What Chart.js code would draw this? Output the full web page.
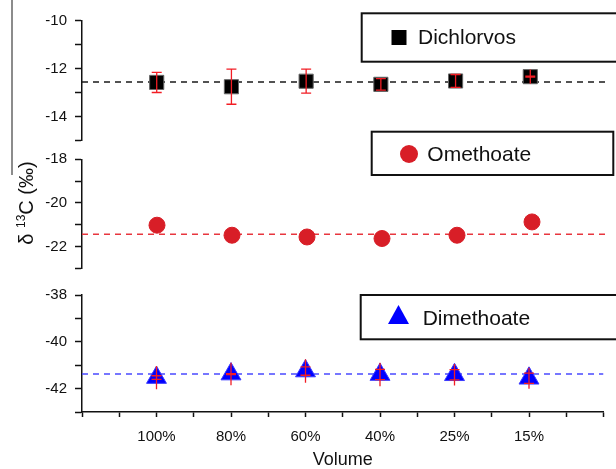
<!DOCTYPE html>
<html lang="en">
<head>
<meta charset="UTF-8">
<title>Carbon isotope vs volume</title>
<script src="https://cdn.jsdelivr.net/npm/chart.js"></script>
<style>
  body { margin: 0; background: #fff; }
  .wrap { position: relative; width: 616px; height: 469px; overflow: hidden; }
  .wrap canvas { position: absolute; left: 0; top: 0; }
</style>
</head>
<body>
<div class="wrap">
  <canvas id="c1" width="616" height="469"></canvas>
  <canvas id="c2" width="616" height="469"></canvas>
  <canvas id="c3" width="616" height="469"></canvas>
</div>
<script>
// categories (x positions 1..6)
const volumes = ['100%', '80%', '60%', '40%', '25%', '15%'];

// Dichlorvos: mean value, whisker half-length, cap half-length
const dichlorvos = [-12.58, -12.76, -12.53, -12.66, -12.52, -12.34];
const dichlorvosErr = [0.42, 0.73, 0.50, 0.24, 0.27, 0.30];
const dichlorvosCap = [0.42, 0.73, 0.50, 0.24, 0.27, 0.02];
const dichlorvosMean = -12.56;

const omethoate = [-21.02, -21.48, -21.56, -21.63, -21.48, -20.87];
const omethoateMean = -21.43;

const dimethoate = [-41.53, -41.38, -41.25, -41.40, -41.41, -41.56];
const dimethoateErr = [0.50, 0.48, 0.50, 0.50, 0.46, 0.45];
const dimethoateCap = [0.08, 0.02, 0.18, 0.22, 0.22, 0.22];
const dimethoateMean = -41.38;

const FONT = "'Liberation Sans', Arial, sans-serif";
Chart.defaults.font.family = FONT;
Chart.defaults.color = '#111';

function toPoints(values) {
  return values.map((v, i) => ({ x: i + 1, y: v }));
}

// red error bars drawn on top of the markers
const errorBars = {
  id: 'errorBars',
  afterDatasetsDraw(chart) {
    const ctx = chart.ctx, ys = chart.scales.y;
    chart.data.datasets.forEach((ds, i) => {
      if (!ds.errBar) return;
      chart.getDatasetMeta(i).data.forEach((pt, j) => {
        const v = ds.data[j].y;
        const t = ys.getPixelForValue(v + ds.errBar[j]);
        const b = ys.getPixelForValue(v - ds.errBar[j]);
        const ct = ys.getPixelForValue(v + ds.errCap[j]);
        const cb = ys.getPixelForValue(v - ds.errCap[j]);
        ctx.save();
        ctx.strokeStyle = '#f21d24';
        ctx.lineWidth = 1.3;
        ctx.beginPath();
        ctx.moveTo(pt.x, t); ctx.lineTo(pt.x, b);
        ctx.moveTo(pt.x - 5, ct); ctx.lineTo(pt.x + 5, ct);
        ctx.moveTo(pt.x - 5, cb); ctx.lineTo(pt.x + 5, cb);
        ctx.stroke();
        ctx.restore();
      });
    });
  }
};

// boxed legend with one entry
const legendBox = {
  id: 'legendBox',
  afterDraw(chart, args, o) {
    const ctx = chart.ctx;
    ctx.save();
    ctx.lineWidth = 2;
    ctx.strokeStyle = '#111';
    ctx.strokeRect(o.x, o.y, o.w, o.h);
    ctx.fillStyle = o.color;
    ctx.beginPath();
    if (o.shape === 'rect') {
      ctx.rect(o.mx - o.size / 2, o.my - o.size / 2, o.size, o.size);
    } else if (o.shape === 'circle') {
      ctx.arc(o.mx, o.my, o.size / 2, 0, Math.PI * 2);
    } else {
      const h = o.size * 0.9;
      ctx.moveTo(o.mx, o.my - h / 2);
      ctx.lineTo(o.mx + o.size / 2, o.my + h / 2);
      ctx.lineTo(o.mx - o.size / 2, o.my + h / 2);
      ctx.closePath();
    }
    ctx.fill();
    ctx.fillStyle = '#111';
    ctx.font = '21px ' + FONT;
    ctx.textBaseline = 'middle';
    ctx.fillText(o.text, o.tx, o.ty);
    ctx.restore();
  }
};

// rotated y title with superscript, plus the thin frame line at the left
const yTitle = {
  id: 'yTitle',
  afterDraw(chart) {
    const ctx = chart.ctx;
    ctx.save();
    ctx.strokeStyle = '#666';
    ctx.lineWidth = 1.5;
    ctx.beginPath();
    ctx.moveTo(12, 0); ctx.lineTo(12, 175);
    ctx.stroke();

    const parts = [['δ ', 20, 0], ['13', 12, -8], ['C (‰)', 20, 0]];
    let total = 0;
    parts.forEach(p => { ctx.font = p[1] + 'px ' + FONT; total += ctx.measureText(p[0]).width; });
    ctx.translate(33, 203);
    ctx.rotate(-Math.PI / 2);
    ctx.fillStyle = '#111';
    ctx.textBaseline = 'alphabetic';
    let x = -total / 2;
    parts.forEach(p => {
      ctx.font = p[1] + 'px ' + FONT;
      ctx.fillText(p[0], x, p[2]);
      x += ctx.measureText(p[0]).width;
    });
    ctx.restore();
  }
};

function yAxis(min, max) {
  return {
    min: min, max: max,
    ticks: {
      stepSize: 1,
      autoSkip: false,
      padding: 8,
      font: { size: 15 },
      color: '#111',
      callback: v => (v % 2 === 0 ? v : '')
    },
    grid: { drawOnChartArea: false, tickLength: 7, tickColor: '#111', tickWidth: 1.5 },
    border: { color: '#111', width: 1.5 },
    afterFit: s => { s.width = 82; }
  };
}

function xAxis(show) {
  const axis = {
    type: 'linear', min: 0, max: 7, display: show,
    ticks: {
      stepSize: 0.5, autoSkip: false, maxRotation: 0, padding: 11,
      font: { size: 15 }, color: '#111',
      callback: v => (Number.isInteger(v) && v >= 1 && v <= volumes.length ? volumes[v - 1] : '')
    },
    grid: { drawOnChartArea: false, tickLength: 5, tickColor: '#111', tickWidth: 1.5 },
    border: { color: '#111', width: 1.5 },
    title: { display: true, text: 'Volume', font: { size: 18, lineHeight: 1 }, color: '#111', padding: 0 }
  };
  if (show) axis.afterFit = s => { s.height = 57; };
  return axis;
}

function panel(id, p) {
  return new Chart(document.getElementById(id), {
    type: 'scatter',
    data: {
      datasets: [
        {
          data: toPoints(p.values),
          pointStyle: p.style,
          pointRadius: p.radius,
          backgroundColor: p.color,
          borderColor: p.border,
          borderWidth: 1,
          errBar: p.err,
          errCap: p.cap,
          order: 1
        },
        {
          type: 'line',
          data: [{ x: 0, y: p.mean }, { x: 7, y: p.mean }],
          borderColor: p.dash,
          borderWidth: 1.5,
          borderDash: [6, 5],
          pointRadius: 0,
          order: 2
        }
      ]
    },
    options: {
      responsive: false,
      animation: false,
      events: [],
      layout: { padding: { left: 0, right: 2, top: p.top, bottom: p.bottom } },
      plugins: {
        legend: { display: false },
        tooltip: { enabled: false },
        legendBox: p.legend
      },
      scales: {
        x: xAxis(p.showX),
        y: yAxis(p.min, p.max)
      }
    },
    plugins: p.plugins
  });
}

panel('c1', {
  values: dichlorvos, err: dichlorvosErr, cap: dichlorvosCap, mean: dichlorvosMean,
  style: 'rect', radius: 10, color: '#000', border: '#666', dash: '#1a1a1a',
  min: -15, max: -10, top: 20.5, bottom: 328.5, showX: false,
  legend: { x: 361.7, y: 13.3, w: 270, h: 48.4, shape: 'rect', size: 15, color: '#000',
            mx: 399, my: 37.5, text: 'Dichlorvos', tx: 418, ty: 38 },
  plugins: [errorBars, legendBox]
});

panel('c2', {
  values: omethoate, mean: omethoateMean,
  style: 'circle', radius: 8, color: '#d81e27', border: '#d81e27', dash: '#e8363e',
  min: -23, max: -18, top: 159.3, bottom: 200.6, showX: false,
  legend: { x: 371.7, y: 131.7, w: 241.6, h: 43.3, shape: 'circle', size: 18, color: '#d81e27',
            mx: 409, my: 154, text: 'Omethoate', tx: 427.3, ty: 155 },
  plugins: [legendBox, yTitle]
});

panel('c3', {
  values: dimethoate, err: dimethoateErr, cap: dimethoateCap, mean: dimethoateMean,
  style: 'triangle', radius: 11.5, color: '#0000ff', border: '#3a3aff', dash: '#4a4aff',
  min: -43, max: -38, top: 295, bottom: 0, showX: true,
  legend: { x: 360.7, y: 295, w: 270, h: 44.3, shape: 'triangle', size: 21, color: '#0000ff',
            mx: 398.5, my: 314.5, text: 'Dimethoate', tx: 422.7, ty: 319 },
  plugins: [errorBars, legendBox]
});
</script>
</body>
</html>
